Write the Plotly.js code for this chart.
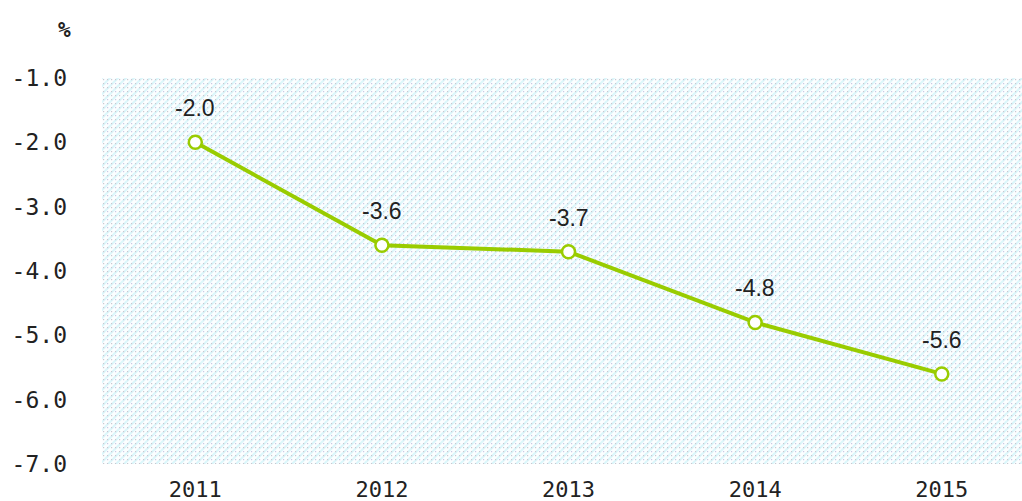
<!DOCTYPE html>
<html>
<head>
<meta charset="utf-8">
<script src="https://cdn.plot.ly/plotly-3.0.1.min.js"></script>
<style>html,body{margin:0;padding:0;background:#fff;}#chart{width:1022px;height:501px;}</style>
</head>
<body>
<div id="chart"></div>
<script>
const years = ['2011', '2012', '2013', '2014', '2015'];
const values = [-2.0, -3.6, -3.7, -4.8, -5.6];
const valueLabels = ['-2.0', '-3.6', '-3.7', '-4.8', '-5.6'];
const yTicks = [-1, -2, -3, -4, -5, -6, -7];
const yTickLabels = ['-1.0', '-2.0', '-3.0', '-4.0', '-5.0', '-6.0', '-7.0'];
const unitLabel = '%';

const svg = '<svg xmlns="http://www.w3.org/2000/svg" width="920" height="386">' +
  '<defs><pattern id="p" width="8" height="8" patternUnits="userSpaceOnUse">' +
  '<rect width="8" height="8" fill="#fcfeff"/>' +
  '<path d="M-1 9 L9 -1" stroke="#dcf7fb" stroke-width="2.2"/>' +
  '<path d="M-1 1 L1 -1 M7 9 L9 7" stroke="#dcf7fb" stroke-width="2.2"/>' +
  '<rect x="1" y="1" width="1.2" height="1.2" fill="#c8c8d0"/>' +
  '<rect x="5" y="1" width="1.2" height="1.2" fill="#c8c8d0"/>' +
  '<rect x="1" y="5" width="1.2" height="1.2" fill="#c8c8d0"/>' +
  '<rect x="5" y="5" width="1.2" height="1.2" fill="#c8c8e4"/>' +
  '</pattern></defs><rect width="920" height="386" fill="url(#p)"/></svg>';
const bgSrc = 'data:image/svg+xml;base64,' + btoa(svg);

const trace = {
  x: years.map((_, i) => i),
  y: values,
  type: 'scatter',
  mode: 'lines+markers',
  line: {color: '#99cc00', width: 4},
  marker: {size: 13, color: '#ffffff', line: {color: '#99cc00', width: 2.5}},
  hoverinfo: 'none',
  cliponaxis: false
};

const annotations = values.map((v, i) => ({
  x: i, y: v, xref: 'x', yref: 'y', text: valueLabels[i], showarrow: false,
  yshift: 34, font: {family: 'Liberation Sans, Arial, sans-serif', size: 23, color: '#222'}
}));
annotations.push({
  xref: 'paper', yref: 'paper', text: '<b>' + unitLabel + '</b>', showarrow: false,
  x: (64 - 102) / 920, y: 1 + (78 - 30) / 386, xanchor: 'center', yanchor: 'middle',
  font: {family: 'DejaVu Sans Mono, monospace', size: 21, color: '#222'}
});

const layout = {
  width: 1022, height: 501,
  margin: {l: 102, r: 0, t: 78, b: 37, pad: 0},
  paper_bgcolor: '#ffffff',
  plot_bgcolor: 'rgba(0,0,0,0)',
  showlegend: false,
  xaxis: {
    range: [-0.5, 4.43], tickvals: years.map((_, i) => i), ticktext: years,
    showgrid: false, zeroline: false, showline: false, ticks: '',
    ticklabelstandoff: 10,
    tickfont: {family: 'DejaVu Sans Mono, monospace', size: 22, color: '#222'}
  },
  yaxis: {
    range: [-7, -1], tickvals: yTicks, ticktext: yTickLabels,
    showgrid: false, zeroline: false, showline: false, ticks: '',
    ticklabelstandoff: 34,
    tickfont: {family: 'DejaVu Sans Mono, monospace', size: 23, color: '#222'}
  },
  images: [{source: bgSrc, xref: 'paper', yref: 'paper', x: 0, y: 1, sizex: 1, sizey: 1,
    sizing: 'stretch', layer: 'below', xanchor: 'left', yanchor: 'top'}],
  annotations: annotations
};

Plotly.newPlot('chart', [trace], layout, {displayModeBar: false, staticPlot: true});
</script>
</body>
</html>
